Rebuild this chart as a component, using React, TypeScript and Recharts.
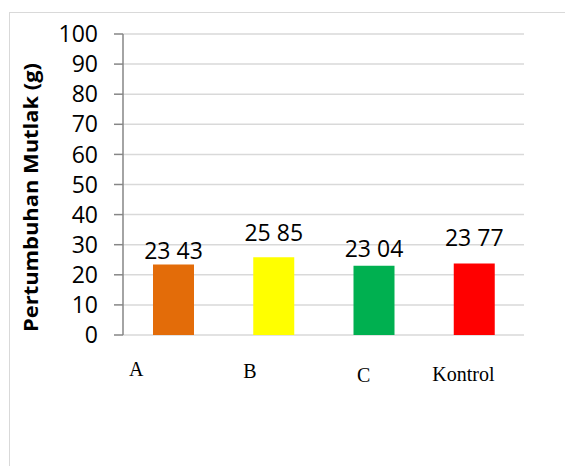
import React from 'react';
import { BarChart, Bar, XAxis, YAxis, CartesianGrid, Cell, LabelList } from 'recharts';

const categories = ['A', 'B', 'C', 'Kontrol'];
const values = [23.43, 25.85, 23.04, 23.77];
const barColors = ['#E36C09', '#FFFF00', '#00B050', '#FF0000'];
const yTicks = [0, 10, 20, 30, 40, 50, 60, 70, 80, 90, 100];
const yTitle = 'Pertumbuhan Mutlak (g)';

const data = categories.map((name, i) => ({ name, value: values[i] }));

// Manual nudges of the hand-placed text boxes in the original
const tickNudgeX = [-37, -23.5, -10, -10.5];
const tickNudgeY = [41, 43, 47, 46];
const labelGap = [5.5, 16, 8.6, 17.5];

const numFont = '"Open Sans", sans-serif';

const XTick = (props: any) => {
  const { x, y, payload, index } = props;
  const i = payload && typeof payload.index === 'number' ? payload.index : index;
  return (
    <text
      x={x + tickNudgeX[i]}
      y={y + tickNudgeY[i]}
      textAnchor="middle"
      fontFamily='"Liberation Serif", "Times New Roman", serif'
      fontSize={20}
      fill="#000"
    >
      {payload.value}
    </text>
  );
};

const ValueLabel = (props: any) => {
  const { x, y, width, value, index } = props;
  return (
    <text
      x={x + width / 2}
      y={y - labelGap[index]}
      textAnchor="middle"
      fontFamily={numFont}
      fontSize={23}
      fill="#000"
    >
      {Number(value).toFixed(2).replace('.', ' ')}
    </text>
  );
};

const TitleLabel = (props: any) => {
  const { viewBox } = props;
  const cx = viewBox.x + 22;
  const cy = viewBox.y + viewBox.height / 2 + 13;
  return (
    <text
      x={cx}
      y={cy}
      transform={`rotate(-90, ${cx}, ${cy})`}
      textAnchor="middle"
      dominantBaseline="central"
      fontFamily={numFont}
      fontWeight="bold"
      fontSize={20}
      textLength={269}
      lengthAdjust="spacingAndGlyphs"
      fill="#000"
    >
      {yTitle}
    </text>
  );
};

export default function App() {
  return (
    <div style={{ width: 565, height: 458, position: 'relative', overflow: 'hidden', background: '#fff' }}>
      <div
        style={{
          position: 'absolute',
          left: 1,
          top: 3.5,
          width: 620,
          height: 520,
          border: '1px solid #d9d9d9',
          boxSizing: 'border-box',
        }}
      />
      <div style={{ position: 'absolute', left: 0, top: 0 }}>
        <BarChart width={565} height={450} data={data} margin={{ top: 26, right: 49, left: 0, bottom: 83 }}>
          <CartesianGrid horizontal vertical={false} stroke="#d9d9d9" strokeWidth={1.5} />
          <XAxis
            dataKey="name"
            axisLine={false}
            tickLine={false}
            tickSize={0}
            tickMargin={0}
            height={40}
            interval={0}
            tick={<XTick />}
          />
          <YAxis
            width={115}
            domain={[0, 100]}
            ticks={yTicks}
            interval={0}
            axisLine={{ stroke: '#868686', strokeWidth: 1.5 }}
            tickLine={{ stroke: '#868686', strokeWidth: 1.5 }}
            tickSize={9}
            tickMargin={16}
            tick={{ fill: '#000', fontSize: 23, fontFamily: numFont }}
            label={<TitleLabel />}
          />
          <Bar dataKey="value" barSize={41} isAnimationActive={false}>
            {data.map((d, i) => (
              <Cell key={d.name} fill={barColors[i]} />
            ))}
            <LabelList dataKey="value" content={<ValueLabel />} />
          </Bar>
        </BarChart>
      </div>
    </div>
  );
}
